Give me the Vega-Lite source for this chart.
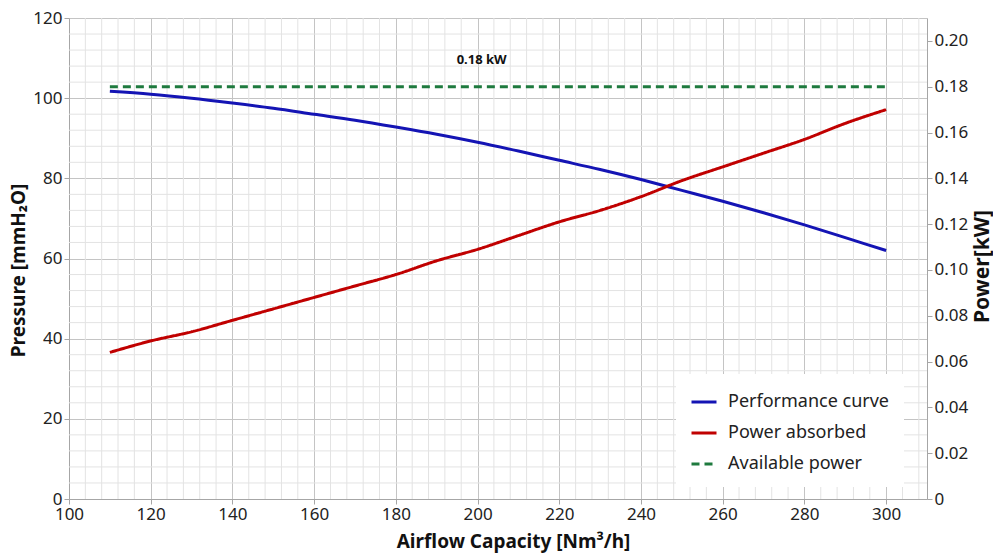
{
  "$schema": "https://vega.github.io/schema/vega-lite/v6.json",
  "width": 858,
  "height": 481,
  "autosize": "none",
  "padding": {"left": 69, "top": 18, "right": 66, "bottom": 59},
  "background": "white",
  "config": {
    "font": "Noto Sans",
    "view": {"stroke": null},
    "axis": {
      "domainColor": "#a6a6a6",
      "tickColor": "#a6a6a6",
      "tickSize": 5,
      "gridColor": "#c4c4c4",
      "labelFontSize": 17,
      "labelColor": "#222222",
      "labelFont": "Noto Sans",
      "labelFlush": false,
      "titleFont": "Noto Sans",
      "titleFontSize": 19,
      "titleFontWeight": "bold",
      "titleColor": "#111111"
    },
    "legend": {
      "title": null,
      "orient": "none",
      "legendX": 607,
      "legendY": 356,
      "fillColor": "white",
      "padding": 14,
      "symbolType": "stroke",
      "symbolSize": 625,
      "symbolStrokeWidth": 2.8,
      "labelFontSize": 18,
      "labelColor": "#222222",
      "labelOffset": 10,
      "rowPadding": 8,
      "labelLimit": 300
    }
  },
  "datasets": {
    "perf": [
      {"x": 110, "p": 101.7, "series": "Performance curve"},
      {"x": 120, "p": 101.0, "series": "Performance curve"},
      {"x": 130, "p": 100.0, "series": "Performance curve"},
      {"x": 140, "p": 98.8, "series": "Performance curve"},
      {"x": 150, "p": 97.5, "series": "Performance curve"},
      {"x": 160, "p": 96.0, "series": "Performance curve"},
      {"x": 170, "p": 94.5, "series": "Performance curve"},
      {"x": 180, "p": 92.8, "series": "Performance curve"},
      {"x": 190, "p": 91.0, "series": "Performance curve"},
      {"x": 200, "p": 89.0, "series": "Performance curve"},
      {"x": 210, "p": 86.8, "series": "Performance curve"},
      {"x": 220, "p": 84.5, "series": "Performance curve"},
      {"x": 230, "p": 82.2, "series": "Performance curve"},
      {"x": 240, "p": 79.7, "series": "Performance curve"},
      {"x": 250, "p": 77.0, "series": "Performance curve"},
      {"x": 260, "p": 74.3, "series": "Performance curve"},
      {"x": 270, "p": 71.4, "series": "Performance curve"},
      {"x": 280, "p": 68.4, "series": "Performance curve"},
      {"x": 290, "p": 65.2, "series": "Performance curve"},
      {"x": 300, "p": 62.0, "series": "Performance curve"}
    ],
    "power": [
      {"x": 110, "kw": 0.064, "series": "Power absorbed"},
      {"x": 120, "kw": 0.069, "series": "Power absorbed"},
      {"x": 130, "kw": 0.073, "series": "Power absorbed"},
      {"x": 140, "kw": 0.078, "series": "Power absorbed"},
      {"x": 150, "kw": 0.083, "series": "Power absorbed"},
      {"x": 160, "kw": 0.088, "series": "Power absorbed"},
      {"x": 170, "kw": 0.093, "series": "Power absorbed"},
      {"x": 180, "kw": 0.098, "series": "Power absorbed"},
      {"x": 190, "kw": 0.104, "series": "Power absorbed"},
      {"x": 200, "kw": 0.109, "series": "Power absorbed"},
      {"x": 210, "kw": 0.115, "series": "Power absorbed"},
      {"x": 220, "kw": 0.121, "series": "Power absorbed"},
      {"x": 230, "kw": 0.126, "series": "Power absorbed"},
      {"x": 240, "kw": 0.132, "series": "Power absorbed"},
      {"x": 250, "kw": 0.139, "series": "Power absorbed"},
      {"x": 260, "kw": 0.145, "series": "Power absorbed"},
      {"x": 270, "kw": 0.151, "series": "Power absorbed"},
      {"x": 280, "kw": 0.157, "series": "Power absorbed"},
      {"x": 290, "kw": 0.164, "series": "Power absorbed"},
      {"x": 300, "kw": 0.170, "series": "Power absorbed"},
      {"x": 110, "kw": 0.18, "series": "Available power"},
      {"x": 300, "kw": 0.18, "series": "Available power"}
    ],
    "label": [{"x": 201, "kw": 0.1915, "text": "0.18 kW"}],
    "gridx": [
      {"x": 104}, {"x": 108}, {"x": 112}, {"x": 116},
      {"x": 124}, {"x": 128}, {"x": 132}, {"x": 136},
      {"x": 144}, {"x": 148}, {"x": 152}, {"x": 156},
      {"x": 164}, {"x": 168}, {"x": 172}, {"x": 176},
      {"x": 184}, {"x": 188}, {"x": 192}, {"x": 196},
      {"x": 204}, {"x": 208}, {"x": 212}, {"x": 216},
      {"x": 224}, {"x": 228}, {"x": 232}, {"x": 236},
      {"x": 244}, {"x": 248}, {"x": 252}, {"x": 256},
      {"x": 264}, {"x": 268}, {"x": 272}, {"x": 276},
      {"x": 284}, {"x": 288}, {"x": 292}, {"x": 296},
      {"x": 304}, {"x": 308}
    ],
    "gridy": [
      {"gy": 4}, {"gy": 8}, {"gy": 12}, {"gy": 16},
      {"gy": 24}, {"gy": 28}, {"gy": 32}, {"gy": 36},
      {"gy": 44}, {"gy": 48}, {"gy": 52}, {"gy": 56},
      {"gy": 64}, {"gy": 68}, {"gy": 72}, {"gy": 76},
      {"gy": 84}, {"gy": 88}, {"gy": 92}, {"gy": 96},
      {"gy": 104}, {"gy": 108}, {"gy": 112}, {"gy": 116}
    ]
  },
  "encoding": {
    "x": {
      "field": "x", "type": "quantitative",
      "scale": {"domain": [100, 310], "nice": false, "zero": false},
      "axis": {
        "title": "Airflow Capacity [Nm³/h]",
        "values": [100, 120, 140, 160, 180, 200, 220, 240, 260, 280, 300],
        "grid": true,
        "labelPadding": 2,
        "titleX": 444,
        "titleY": 42,
        "titleBaseline": "middle"
      }
    }
  },
  "layer": [
    {
      "data": {"name": "gridx"},
      "mark": {"type": "rule", "stroke": "#e3e3e3", "strokeWidth": 1},
      "encoding": {}
    },
    {
      "data": {"name": "gridy"},
      "mark": {"type": "rule", "stroke": "#e3e3e3", "strokeWidth": 1},
      "encoding": {
        "x": null,
        "y": {"field": "gy", "type": "quantitative", "scale": {"domain": [0, 120], "nice": false}, "axis": null}
      }
    },
    {
      "data": {"name": "perf"},
      "mark": {"type": "line", "strokeWidth": 3, "interpolate": "monotone"},
      "encoding": {
        "y": {
          "field": "p", "type": "quantitative",
          "scale": {"domain": [0, 120], "nice": false},
          "axis": {
            "title": "Pressure [mmH₂O]",
            "values": [0, 20, 40, 60, 80, 100, 120],
            "grid": true,
            "labelPadding": 2,
            "titleX": -51,
            "titleY": 252,
            "titleBaseline": "middle"
          }
        },
        "color": {
          "field": "series", "type": "nominal",
          "scale": {"domain": ["Performance curve", "Power absorbed", "Available power"], "range": ["#1414b4", "#c00000", "#1e7a3e"]}
        }
      }
    },
    {
      "data": {"name": "power"},
      "encoding": {
        "y": {
          "field": "kw", "type": "quantitative",
          "scale": {"domain": [0, 0.21], "nice": false},
          "axis": {
            "orient": "right",
            "title": "Power[kW]",
            "values": [0, 0.02, 0.04, 0.06, 0.08, 0.1, 0.12, 0.14, 0.16, 0.18, 0.2],
            "labelExpr": "datum.value == 0 ? '0' : format(datum.value, '.2f')",
            "grid": false,
            "labelPadding": 2,
            "titleAngle": 270,
            "titleFontSize": 21,
            "titleX": 55,
            "titleY": 248,
            "titleBaseline": "middle"
          }
        }
      },
      "layer": [
        {
          "mark": {"type": "line", "strokeWidth": 3, "interpolate": "monotone"},
          "encoding": {
            "color": {"field": "series", "type": "nominal"},
            "strokeDash": {
              "field": "series", "type": "nominal",
              "scale": {"domain": ["Performance curve", "Power absorbed", "Available power"], "range": [[1, 0], [1, 0], [8, 5]]}
            }
          }
        },
        {
          "data": {"name": "label"},
          "mark": {"type": "text", "fontWeight": "bold", "fontSize": 13, "color": "#111111"},
          "encoding": {"text": {"field": "text"}}
        }
      ]
    }
  ],
  "resolve": {"scale": {"y": "independent"}}
}
